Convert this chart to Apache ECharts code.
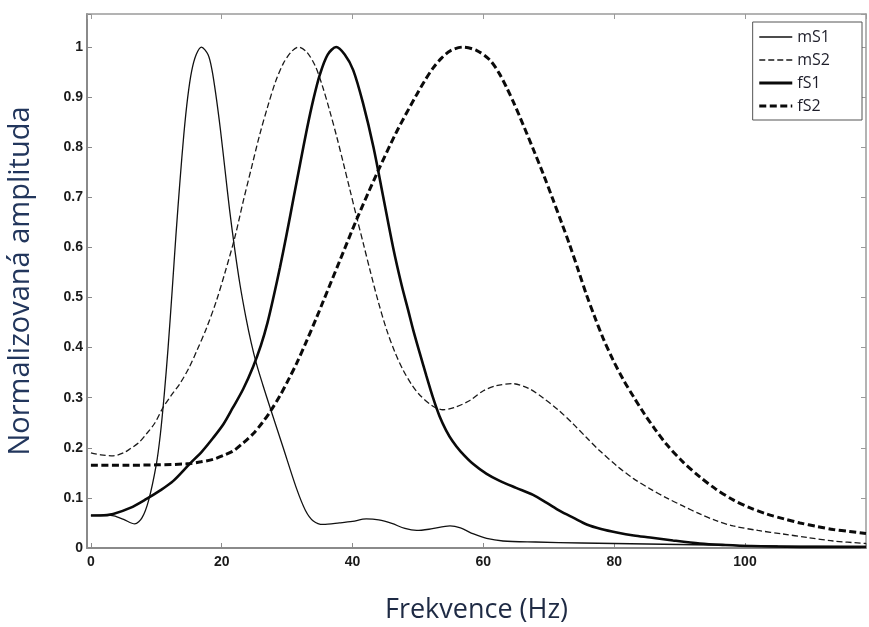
<!DOCTYPE html>
<html>
<head>
<meta charset="utf-8">
<script src="https://cdn.jsdelivr.net/npm/echarts@6/dist/echarts.min.js"></script>
<style>
html,body{margin:0;padding:0;background:#fff;}
#chart{width:869px;height:627px;}
</style>
</head>
<body>
<div id="chart"></div>
<script>
// ---- data ----
const seriesNames = ['mS1', 'mS2', 'fS1', 'fS2'];
const xTickLabels = ['0', '20', '40', '60', '80', '100'];
const yTickLabels = ['0', '0.1', '0.2', '0.3', '0.4', '0.5', '0.6', '0.7', '0.8', '0.9', '1'];

const mS1_x = [0, 2, 3.5, 5, 6.7, 7.8, 8.8, 10, 10.6, 11.2, 11.8, 12.4, 13, 13.6, 14.2, 14.8, 15.4, 16.1, 16.9, 17.9, 18.5, 19.1, 19.8, 20.5, 21.2, 22, 22.8, 23.7, 24.5, 25.3, 26.3, 27.4, 29.4, 31.4, 32.8, 34, 35.5, 38, 40, 42.1, 44, 46, 48, 49.8, 52, 54.9, 56.5, 58.5, 60.5, 63, 68, 75, 85, 95, 105, 118.5];
const mS1_y = [0.065, 0.066, 0.064, 0.057, 0.048, 0.060, 0.094, 0.167, 0.225, 0.305, 0.400, 0.510, 0.625, 0.730, 0.825, 0.900, 0.952, 0.985, 1.000, 0.985, 0.955, 0.905, 0.835, 0.755, 0.675, 0.595, 0.525, 0.460, 0.410, 0.368, 0.325, 0.280, 0.200, 0.120, 0.075, 0.054, 0.047, 0.050, 0.053, 0.058, 0.056, 0.049, 0.039, 0.035, 0.038, 0.044, 0.040, 0.028, 0.019, 0.014, 0.012, 0.010, 0.008, 0.006, 0.004, 0.003];

const mS2_x = [0, 1.5, 3.4, 5, 6, 7.3, 8.5, 9.8, 11, 12.3, 13.6, 15, 16.2, 17.7, 19.2, 20.5, 22, 23.3, 24.6, 25.8, 27, 28.2, 29.4, 30.6, 31.7, 33, 34.3, 35.4, 36.5, 37.6, 38.6, 39.6, 40.6, 41.7, 42.7, 43.9, 45.2, 46.5, 47.7, 49, 50.3, 52.3, 53.8, 55.5, 58, 60, 62, 64.5, 67, 69.1, 71.5, 73.7, 75.8, 77.8, 80.5, 82.9, 85.5, 88, 90.5, 93.1, 95.5, 98.2, 102, 105.8, 109.5, 113.5, 118.5];
const mS2_y = [0.190, 0.186, 0.184, 0.190, 0.198, 0.210, 0.228, 0.250, 0.280, 0.305, 0.328, 0.360, 0.394, 0.440, 0.494, 0.550, 0.620, 0.693, 0.762, 0.825, 0.880, 0.930, 0.967, 0.990, 1.000, 0.990, 0.962, 0.922, 0.873, 0.820, 0.768, 0.715, 0.662, 0.605, 0.553, 0.493, 0.436, 0.390, 0.356, 0.327, 0.305, 0.283, 0.276, 0.280, 0.295, 0.314, 0.324, 0.328, 0.318, 0.300, 0.275, 0.248, 0.220, 0.194, 0.163, 0.139, 0.118, 0.100, 0.084, 0.068, 0.055, 0.044, 0.035, 0.028, 0.021, 0.014, 0.009];

const fS1_x = [0, 1.5, 3.4, 6, 8.5, 10.6, 12.6, 15.1, 17, 18.7, 20.3, 21.7, 23.3, 24.8, 26, 27, 27.9, 28.9, 29.9, 31, 32, 33, 34, 35, 36.2, 37.5, 38.8, 40.1, 41.6, 43.2, 44.7, 46.2, 47.5, 48.5, 49.3, 50.3, 51.3, 52.3, 53.3, 54.3, 55.3, 56.5, 58.5, 60.5, 62.5, 65, 67.6, 69.7, 71.7, 73.8, 75.8, 78, 80.4, 83, 85.5, 89, 93.1, 97, 100.8, 110, 118.5];
const fS1_y = [0.065, 0.065, 0.068, 0.080, 0.098, 0.115, 0.134, 0.168, 0.193, 0.220, 0.248, 0.280, 0.318, 0.362, 0.405, 0.450, 0.500, 0.560, 0.625, 0.700, 0.768, 0.835, 0.895, 0.945, 0.985, 1.000, 0.985, 0.954, 0.888, 0.800, 0.700, 0.600, 0.525, 0.475, 0.434, 0.388, 0.343, 0.300, 0.263, 0.235, 0.213, 0.193, 0.167, 0.148, 0.134, 0.120, 0.106, 0.090, 0.074, 0.060, 0.047, 0.038, 0.031, 0.025, 0.021, 0.015, 0.009, 0.006, 0.004, 0.002, 0.002];

const fS2_x = [0, 5, 10, 14.6, 16.8, 18.7, 20.3, 21.8, 23.3, 24.8, 26.2, 27.4, 28.9, 30.2, 31.5, 33, 34.5, 35.5, 38, 40.6, 43.7, 46.7, 49.8, 51, 52.3, 53.6, 55, 56.9, 59, 61, 62.4, 63.6, 64.6, 65.6, 67.6, 69.2, 70.6, 72, 73.2, 74.5, 75.7, 77, 78.3, 79.8, 81.4, 83, 84.6, 86.2, 88, 90.5, 93.1, 95.5, 98.2, 100.8, 103.3, 106, 108.4, 111, 113.5, 116, 118.5];
const fS2_y = [0.165, 0.165, 0.166, 0.168, 0.172, 0.177, 0.185, 0.194, 0.210, 0.228, 0.250, 0.272, 0.304, 0.336, 0.370, 0.414, 0.460, 0.492, 0.572, 0.655, 0.747, 0.830, 0.905, 0.932, 0.958, 0.978, 0.993, 1.000, 0.993, 0.974, 0.948, 0.918, 0.890, 0.860, 0.797, 0.745, 0.697, 0.648, 0.605, 0.555, 0.508, 0.462, 0.419, 0.376, 0.336, 0.301, 0.268, 0.238, 0.207, 0.172, 0.142, 0.118, 0.096, 0.080, 0.068, 0.058, 0.050, 0.043, 0.037, 0.033, 0.029];

// ---- build ----
function pairs(xs, ys) { return xs.map((x, i) => [x, ys[i]]); }

const chart = echarts.init(document.getElementById('chart'), null, {renderer: 'canvas'});

const axisGray = '#8a8a8a';
const tickFont = {fontFamily: 'Liberation Sans', fontWeight: 'bold', fontSize: 14, color: '#1a1a1a'};

const xFmt = v => { const s = String(Math.round(v)); return (Math.abs(v - Math.round(v)) < 1e-6 && xTickLabels.indexOf(s) >= 0) ? s : ''; };
const yFmt = v => { const s = String(+v.toFixed(1)); return (Math.abs(v - +v.toFixed(1)) < 1e-6 && yTickLabels.indexOf(s) >= 0) ? s : ''; };

const styles = {
  mS1: {color: '#111111', width: 1.3, type: 'solid', legendWidth: 1.6},
  mS2: {color: '#1a1a1a', width: 1.3, type: [6, 3], legendWidth: 1.6},
  fS1: {color: '#0a0a0a', width: 2.6, type: 'solid', legendWidth: 3},
  fS2: {color: '#0a0a0a', width: 3, type: [7, 3.5], legendWidth: 3.2}
};
const dataMap = {
  mS1: pairs(mS1_x, mS1_y),
  mS2: pairs(mS2_x, mS2_y),
  fS1: pairs(fS1_x, fS1_y),
  fS2: pairs(fS2_x, fS2_y)
};

const option = {
  backgroundColor: '#ffffff',
  animation: false,
  grid: {left: 87, right: 3, top: 14, bottom: 79, containLabel: false, outerBoundsMode: 'none'},
  legend: {
    data: seriesNames.map(n => ({name: n, lineStyle: {width: styles[n].legendWidth}})),
    orient: 'vertical',
    right: 7, top: 22,
    backgroundColor: '#ffffff',
    borderColor: '#555555', borderWidth: 1, borderRadius: 0,
    padding: [7, 32, 6, 5],
    itemWidth: 33, itemHeight: 12, itemGap: 7,
    itemStyle: {opacity: 0},
    textStyle: {fontFamily: 'Open Sans', fontSize: 16, color: '#1e1e2a'}
  },
  xAxis: [{
    type: 'value', min: -0.6, max: 118.5, splitNumber: 6,
    name: 'Frekvence (Hz)', nameLocation: 'middle', nameGap: 49,
    nameTextStyle: {fontFamily: 'Open Sans', fontSize: 27, color: '#1e2a44'},
    axisLine: {show: true, onZero: false, lineStyle: {color: axisGray, width: 2}},
    axisTick: {show: true, inside: true, length: 5, lineStyle: {color: axisGray, width: 1}},
    axisLabel: Object.assign({margin: 7, formatter: xFmt}, tickFont),
    splitLine: {show: false}
  }, {
    type: 'value', position: 'top', min: -0.6, max: 118.5, splitNumber: 6,
    axisLine: {show: true, onZero: false, lineStyle: {color: '#9a9a9a', width: 1.5}},
    axisTick: {show: true, inside: true, length: 5, lineStyle: {color: '#9a9a9a', width: 1}},
    axisLabel: {show: false}, splitLine: {show: false}
  }],
  yAxis: [{
    type: 'value', min: 0, max: 1.066, interval: 0.1,
    name: 'Normalizovaná amplituda', nameLocation: 'middle', nameGap: 52, nameRotate: 90,
    nameTextStyle: {fontFamily: 'Open Sans', fontSize: 29, color: '#22365c'},
    axisLine: {show: true, onZero: false, lineStyle: {color: axisGray, width: 2}},
    axisTick: {show: true, inside: true, length: 5, lineStyle: {color: axisGray, width: 1}},
    axisLabel: Object.assign({margin: 4, formatter: yFmt}, tickFont),
    splitLine: {show: false}
  }, {
    type: 'value', position: 'right', min: 0, max: 1.066, interval: 0.1,
    axisLine: {show: true, onZero: false, lineStyle: {color: '#9a9a9a', width: 1.5}},
    axisTick: {show: true, inside: true, length: 5, lineStyle: {color: '#9a9a9a', width: 1}},
    axisLabel: {show: false}, splitLine: {show: false}
  }],
  series: seriesNames.map(n => ({
    name: n, type: 'line', data: dataMap[n], smooth: 0.3, symbol: 'none', showSymbol: false,
    lineStyle: {color: styles[n].color, width: styles[n].width, type: styles[n].type},
    itemStyle: {color: styles[n].color}
  }))
};
chart.setOption(option);
</script>
</body>
</html>
